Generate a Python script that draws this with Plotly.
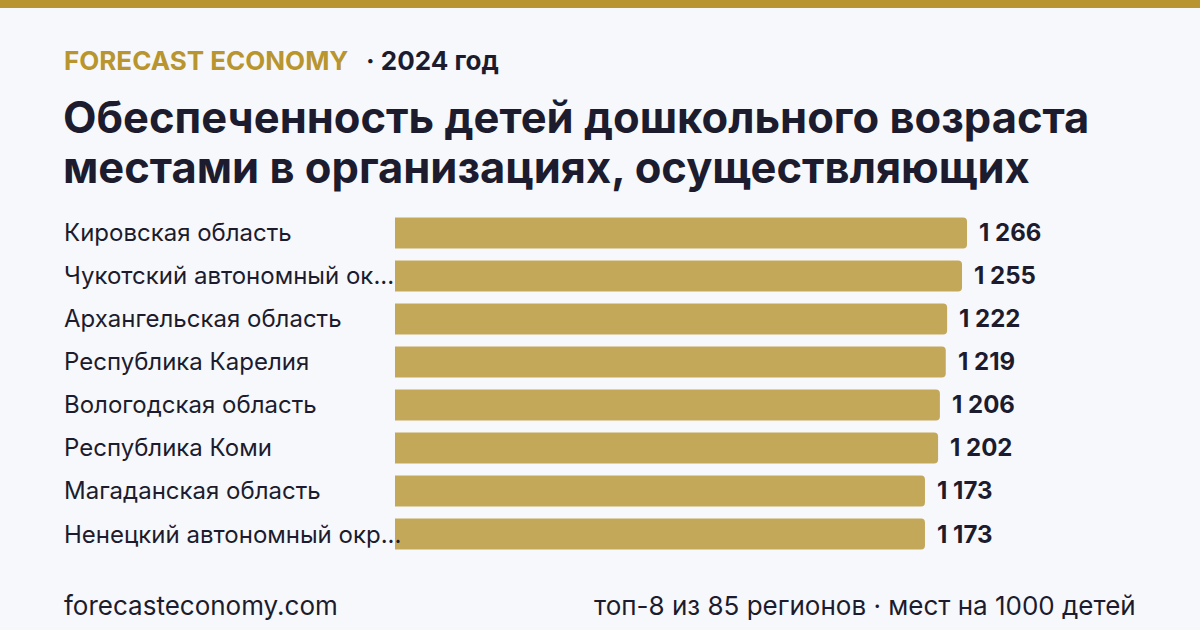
import plotly.graph_objects as go

regions = [
    "Кировская область",
    "Чукотский автономный ок...",
    "Архангельская область",
    "Республика Карелия",
    "Вологодская область",
    "Республика Коми",
    "Магаданская область",
    "Ненецкий автономный окр...",
]
values = [1266, 1255, 1222, 1219, 1206, 1202, 1173, 1173]
value_labels = ["1 266", "1 255", "1 222", "1 219", "1 206", "1 202", "1 173", "1 173"]

W, H = 1200, 630
FONT = "Inter"
DARK = "#1c1c2e"
GOLD = "#b8952e"
BAR = "#c4a85a"
BG = "#f7f8fc"

x0, x1 = 395, 1135
y_top, y_bot = 211.5, 555.5
xmax = (x1 - x0) / ((967 - 395) / 1266)
LX = 62 / W

fig = go.Figure()
fig.add_trace(go.Bar(
    x=values, y=regions, orientation="h",
    marker=dict(color=BAR, cornerradius=4, line=dict(width=0)),
    width=0.72, hoverinfo="skip",
))

annotations = []
for r, v, t in zip(regions, values, value_labels):
    annotations.append(dict(x=v, y=r, xref="x", yref="y", text=t, showarrow=False,
                            xanchor="left", xshift=10,
                            font=dict(family=FONT, size=24, color=DARK, weight="bold")))
    annotations.append(dict(x=LX, y=r, xref="paper", yref="y", text=r, showarrow=False,
                            xanchor="left",
                            font=dict(family=FONT, size=24, color=DARK)))

def py(px):
    return 1 - px / H

annotations += [
    dict(x=LX, y=py(61), xref="paper", yref="paper", xanchor="left", yanchor="middle",
         showarrow=False, text="FORECAST ECONOMY",
         font=dict(family=FONT, size=26, color=GOLD, weight="bold")),
    dict(x=364 / W, y=py(61), xref="paper", yref="paper", xanchor="left", yanchor="middle",
         showarrow=False, text="· 2024 год",
         font=dict(family=FONT, size=26, color=DARK, weight="bold")),
    dict(x=LX, y=py(116.5), xref="paper", yref="paper", xanchor="left", yanchor="middle",
         showarrow=False, borderpad=0, text="Обеспеченность детей дошкольного возраста",
         font=dict(family=FONT, size=43.5, color=DARK, weight="bold")),
    dict(x=LX, y=py(167.5), xref="paper", yref="paper", xanchor="left", yanchor="middle",
         showarrow=False, borderpad=0, text="местами в организациях, осуществляющих",
         font=dict(family=FONT, size=43.5, color=DARK, weight="bold")),
    dict(x=LX, y=py(605), xref="paper", yref="paper", xanchor="left", yanchor="middle",
         showarrow=False, text="forecasteconomy.com",
         font=dict(family=FONT, size=26, color=DARK)),
    dict(x=1138 / W, y=py(605), xref="paper", yref="paper", xanchor="right", yanchor="middle",
         showarrow=False, text="топ-8 из 85 регионов · мест на 1000 детей",
         font=dict(family=FONT, size=26, color=DARK)),
]

fig.update_layout(
    width=W, height=H,
    margin=dict(l=0, r=0, t=0, b=0),
    paper_bgcolor=BG, plot_bgcolor=BG,
    showlegend=False,
    xaxis=dict(domain=[x0 / W, x1 / W], range=[0, xmax], visible=False, fixedrange=True),
    yaxis=dict(domain=[1 - y_bot / H, 1 - y_top / H], autorange="reversed",
               visible=False, fixedrange=True),
    annotations=annotations,
    shapes=[dict(type="rect", xref="paper", yref="paper", x0=0, x1=1, y0=1 - 8 / H, y1=1,
                 fillcolor=GOLD, line=dict(width=0), layer="above")],
)

fig.write_html("out.html", config={"displayModeBar": False})
